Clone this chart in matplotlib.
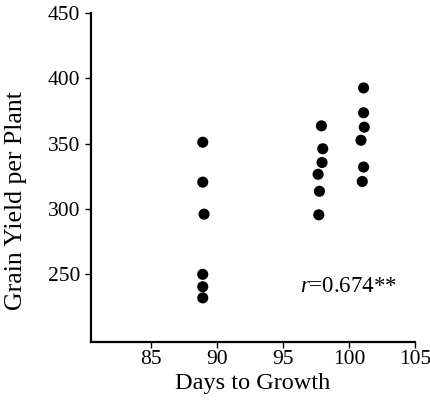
import matplotlib
matplotlib.use("Agg")
import matplotlib.pyplot as plt

# days to growth and grain yield per plant
days = [88.9, 88.9, 89.0, 88.9, 88.9, 88.9,
        97.9, 98.0, 97.95, 97.65, 97.75, 97.7,
        101.1, 101.1, 101.15, 100.9, 101.1, 101.0]
grain_yield = [351, 320.5, 296, 250, 240.5, 232,
               363.5, 346, 335.5, 326.5, 313.5, 295.5,
               392.5, 373.5, 362.5, 352.5, 332, 321]

x_ticks = [85, 90, 95, 100, 105]
y_ticks = [250, 300, 350, 400, 450]

plt.rcParams['font.family'] = 'Liberation Serif'
plt.rcParams['mathtext.fontset'] = 'custom'
plt.rcParams['mathtext.it'] = 'Liberation Serif:italic'
plt.rcParams['mathtext.rm'] = 'Liberation Serif'

fig = plt.figure(figsize=(4.31, 4.05), dpi=100)
ax = fig.add_axes([0.2104, 0.1563, 0.7525, 0.8123])

ax.scatter(days, grain_yield, s=64, color='black', edgecolors='none', zorder=3)

ax.set_xlim(80.4, 104.7)
ax.set_ylim(198.5, 447.5)
ax.set_xticks(x_ticks)
ax.set_yticks(y_ticks)
ax.tick_params(axis='both', labelsize=15.5, length=4, width=1, direction='out')
ax.tick_params(axis='x', pad=2)

for side in ['top', 'right']:
    ax.spines[side].set_visible(False)
for side in ['left', 'bottom']:
    ax.spines[side].set_linewidth(1.6)
ax.xaxis.set_clip_on(False)

ax.set_xlabel("Days to Growth", fontsize=17.5, labelpad=3)
ax.set_ylabel("Grain Yield per Plant", fontsize=18.5)
# the scanned label sits a bit lower than the default
ax.yaxis.set_label_coords(-0.195, 0.43)

ax.text(96.3, 241, "$r$=0.674**", fontsize=16.5, va='center', ha='left')

fig.savefig("out.png", dpi=100)
